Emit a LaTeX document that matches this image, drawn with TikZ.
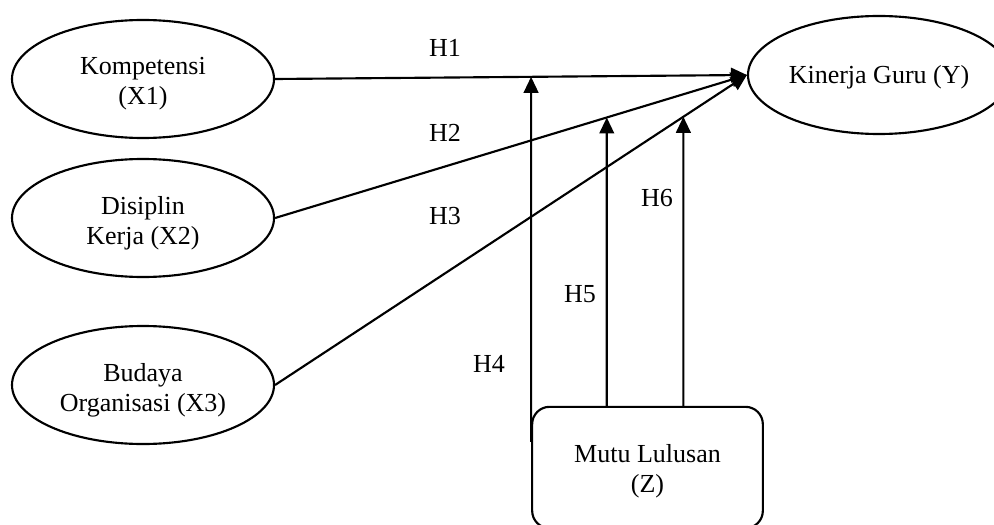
\documentclass[tikz,border=0pt]{standalone}
\usepackage{fontspec}
\setmainfont{Liberation Serif}
\usetikzlibrary{arrows.meta,shapes.geometric,calc}
\begin{document}
\begin{tikzpicture}[x=0.75pt,y=-0.75pt,
  every node/.style={font=\fontsize{19.5}{22.5}\selectfont},
  var/.style={draw, ellipse, line width=1.6pt, minimum width=196.5pt,
    minimum height=88.5pt, inner sep=0pt},
  txt/.style={inner sep=0pt, align=center},
  modbox/.style={draw, rectangle, rounded corners=13pt, line width=1.6pt,
    minimum width=173pt, minimum height=91pt, inner sep=0pt},
  link/.style={line width=1.6pt, -{Triangle[length=12pt,width=11pt]}},
  hlab/.style={inner sep=0pt}]
\useasboundingbox (0,0) rectangle (994,524);
\clip (0,0) rectangle (994,524);

% constructs
\node[var] (x1) at (143,79)  {};
\node[var] (x2) at (143,218) {};
\node[var] (x3) at (143,385) {};
\node[var] (y)  at (879,75)  {};
\node[modbox] (z) at (647.5,467.5) {};
\node[txt] (x1t) at ($(x1)+(0,5)$) {Kompetensi\\(X1)};
\node[txt] (x2t) at ($(x2)+(0,5)$) {Disiplin\\Kerja (X2)};
\node[txt] (x3t) at ($(x3)+(0,5)$) {Budaya\\Organisasi (X3)};
\node[txt] (yt)  at ($(y)+(0,2)$)  {Kinerja Guru (Y)};
\node[txt] (zt)  at ($(z)+(0,4)$)  {Mutu Lulusan\\(Z)};

% direct effects
\draw[link] (x1.east) -- (y.west);
\draw[link] (x2.east) -- (y.west);
\draw[link] (x3.east) -- (y.west);

% moderating effects
\coordinate (m4) at ($(z.north west)+(0,36)$);
\coordinate (m5) at ($(z.north west)!0.325!(z.north east)$);
\coordinate (m6) at ($(z.north west)!0.654!(z.north east)$);
\coordinate (m4up) at ($(m4)+(0,-400)$);
\coordinate (m5up) at ($(m5)+(0,-400)$);
\coordinate (m6up) at ($(m6)+(0,-400)$);
\draw[link] (m4) -- (intersection of m4--m4up and x1.east--y.west);
\draw[link] (m5) -- (intersection of m5--m5up and x2.east--y.west);
\draw[link] (m6) -- (intersection of m6--m6up and x3.east--y.west);

% hypothesis labels
\node[hlab] (h1) at (445,48)  {H1};
\node[hlab] (h2) at (445,133) {H2};
\node[hlab] (h3) at (445,216) {H3};
\node[hlab] (h4) at (489,364) {H4};
\node[hlab] (h5) at (580,294) {H5};
\node[hlab] (h6) at (657,198) {H6};
\end{tikzpicture}
\end{document}
